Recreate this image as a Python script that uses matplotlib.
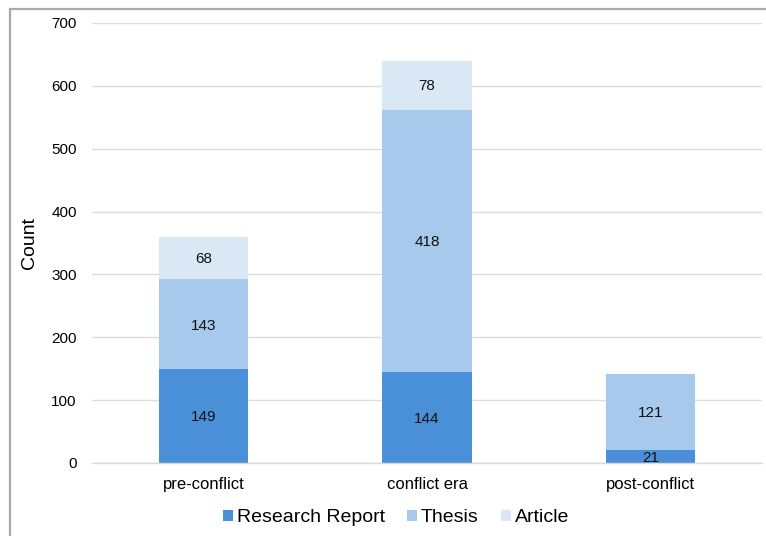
import matplotlib
matplotlib.use("Agg")
import matplotlib.pyplot as plt
from matplotlib.patches import Rectangle
import numpy as np

plt.rcParams['font.family'] = ['Liberation Sans', 'DejaVu Sans']

categories = ["pre-conflict", "conflict era", "post-conflict"]
series_names = ["Research Report", "Thesis", "Article"]
research_report = [149, 144, 21]
thesis = [143, 418, 121]
article = [68, 78, 0]
colors = ["#4a90d9", "#a6c9ec", "#dae8f6"]
y_ticks = [0, 100, 200, 300, 400, 500, 600, 700]

fig = plt.figure(figsize=(7.66, 5.36), dpi=100)
ax = fig.add_axes([92 / 766, 1 - 463 / 536, 670 / 766, 440 / 536])

x = np.arange(len(categories))
bottom = np.zeros(len(categories))
for name, vals, col in zip(series_names, [research_report, thesis, article], colors):
    vals = np.array(vals, dtype=float)
    ax.bar(x, vals, width=0.4, bottom=bottom, color=col, label=name, zorder=2)
    for xi, b, v in zip(x, bottom, vals):
        if v > 0:
            ax.text(xi, b + v / 2 - 2, f"{int(v)}", ha="center", va="center",
                    fontsize=11, color="#111111", zorder=3)
    bottom += vals

ax.set_xlim(-0.5, len(categories) - 0.5)
ax.set_ylim(0, 700)
ax.set_yticks(y_ticks)
ax.set_xticks(x)
ax.set_xticklabels(categories, fontsize=12)
ax.tick_params(axis="y", labelsize=11, length=0, pad=11)
ax.tick_params(axis="x", length=0, pad=10)
ax.yaxis.grid(True, color="#dddddd", linewidth=1, zorder=0)
for s in ["top", "right", "left"]:
    ax.spines[s].set_visible(False)
ax.spines["bottom"].set_color("#d9d9d9")
ax.spines["bottom"].set_linewidth(1)
ax.set_ylabel("Count", fontsize=14)
ax.yaxis.set_label_coords(-54 / 670, 0.5)

fig.legend(loc="center", bbox_to_anchor=(396 / 766, 1 - 518 / 536), ncol=3,
           frameon=False, fontsize=14, handlelength=0.5, handleheight=0.5,
           handletextpad=0.2, columnspacing=1.15)

# figure frame
fig.patches.append(Rectangle((10 / 766, -0.1), 1.2, 1.1 - 9 / 536,
                             transform=fig.transFigure, fill=False,
                             edgecolor="#aaaaaa", linewidth=1.6))

fig.savefig("out.png", dpi=100)
